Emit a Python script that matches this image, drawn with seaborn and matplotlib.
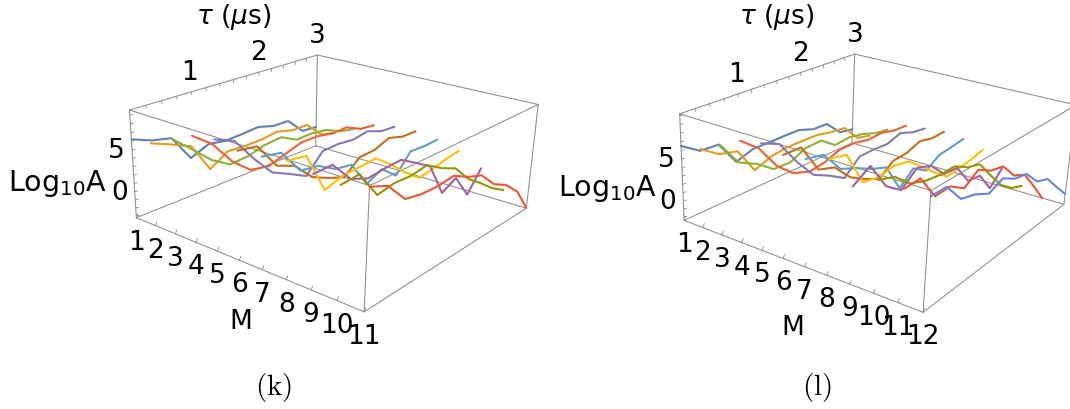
import numpy as np
import pandas as pd
import matplotlib
matplotlib.use('Agg')
from matplotlib import pyplot as plt
import seaborn as sns

sns.set_style('white')
plt.rcParams['mathtext.fontset'] = 'dejavusans'
plt.rcParams['text.color'] = 'black'

# log10 A on the tau grid, one list per M
tau = [0.20, 0.45, 0.71, 0.96, 1.22, 1.47, 1.73, 1.98, 2.24, 2.49, 2.75, 3.00]

k_m1 = [6.24, 5.35, 4.82, 1.58, 2.55, 2.19, 2.30, 2.48, 1.88, 1.84, -0.30, -0.47]
k_m2 = [6.55, 5.65, 4.63, 1.02, 2.42, 2.29, 2.32, 2.61, 2.04, 2.02, -0.04, -0.59]
k_m3 = [7.89, 5.90, 3.79, 2.44, 2.60, 3.20, 3.40, 2.32, 2.39, 2.08, 1.15, 0.73]
k_m4 = [8.94, 7.25, 4.42, 2.62, 2.19, 2.87, 3.54, 3.52, 3.12, 3.18, 2.22, 1.98]
k_m5 = [9.30, 8.39, 5.55, 3.16, 2.09, 0.98, 3.24, 3.32, 3.08, 3.41, 2.66, 2.52]
k_m6 = [8.90, 8.57, 5.62, 4.77, 2.59, 1.60, 0.80, 2.45, 2.56, 3.30, 2.70, 2.65]
k_m7 = [9.08, 8.68, 5.91, 5.61, 4.38, 4.04, 0.85, 1.82, 0.12, 2.38, 2.23, 2.30]
k_m8 = [9.49, 9.17, 4.66, 5.31, 5.45, 5.61, 4.03, 2.26, 0.69, 0.96, 1.39, 1.65]
k_m9 = [8.99, 9.07, 6.73, 5.92, 6.15, 6.26, 5.06, 3.83, -0.29, 0.68, -2.36, 0.18]
k_m10 = [8.77, 8.98, 5.93, 6.29, 6.19, 6.50, 5.29, 4.43, 2.30, 0.93, -0.64, -1.76]
k_m11 = [9.49, 8.69, 6.43, 6.02, 5.95, 6.18, 5.16, 4.48, 2.55, 1.57, -0.17, -3.18]
k_series = [k_m1, k_m2, k_m3, k_m4, k_m5, k_m6, k_m7, k_m8, k_m9, k_m10, k_m11]

l_m1 = [6.52, 5.11, 4.97, 1.99, 2.73, 2.72, 2.74, 2.72, 2.01, 1.95, -0.03, -0.40]
l_m2 = [6.90, 5.45, 4.90, 1.71, 2.54, 2.82, 2.79, 2.75, 2.30, 2.08, -0.13, -0.63]
l_m3 = [8.11, 5.23, 4.13, 2.61, 2.53, 3.46, 3.54, 2.14, 2.33, 1.95, 1.23, 0.93]
l_m4 = [9.27, 7.61, 4.65, 2.89, 2.13, 2.43, 3.14, 3.12, 2.68, 2.79, 2.31, 2.18]
l_m5 = [9.71, 8.79, 5.84, 3.47, 2.41, 1.19, 2.99, 3.01, 2.87, 3.48, 2.76, 2.48]
l_m6 = [9.18, 9.15, 5.76, 5.12, 3.00, 1.85, 0.90, 2.31, 2.42, 3.10, 2.66, 2.73]
l_m7 = [9.50, 9.08, 6.61, 5.81, 4.77, 4.06, 0.53, 2.11, 0.88, 2.03, 2.22, 2.45]
l_m8 = [10.25, 9.82, 5.90, 5.55, 5.93, 5.54, 3.95, 2.35, 0.89, 1.09, 1.30, 1.73]
l_m9 = [8.20, 9.41, 6.26, 4.88, 6.43, 5.78, 3.88, 3.72, 1.13, 0.86, -1.75, -0.02]
l_m10 = [9.65, 9.04, 7.37, 6.72, 6.44, 6.48, 5.45, 4.90, 2.58, 0.46, -0.90, -1.60]
l_m11 = [9.54, 9.66, 6.81, 6.91, 5.71, 6.86, 5.82, 5.42, 3.37, 2.56, 0.10, -2.43]
l_m12 = [9.63, 9.61, 7.36, 6.86, 5.93, 6.67, 5.68, 5.29, 3.43, 2.81, 0.81, -1.04]
l_series = [l_m1, l_m2, l_m3, l_m4, l_m5, l_m6, l_m7, l_m8, l_m9, l_m10, l_m11, l_m12]

colors = ['#5E81B5', '#E19C24', '#8FB131', '#EB6235', '#8778B3', '#C56E1A',
          '#5D9EC7', '#FFBF00', '#A5609D', '#929600', '#E95536', '#6685D9']

# where the corners of each box sit in the picture
k_box = dict(LB=(136, 219), LT=(130, 111), BB=(316, 146.5), BT=(317, 56),
             FB=(365, 313), FT=(368.5, 186), RB=(525.7, 209), RT=(539, 106))
l_box = dict(LB=(684.5, 221.7), LT=(679.3, 115), BB=(851.7, 143.4), BT=(855, 55.3),
             FB=(923, 313.3), FT=(931, 191), RB=(1064, 205.7), RT=(1076, 106))


def fit_camera(box, mmax, amin, amax):
    world = {'LB': (1, .2, amin), 'LT': (1, .2, amax), 'BB': (1, 3, amin), 'BT': (1, 3, amax),
             'FB': (mmax, .2, amin), 'FT': (mmax, .2, amax), 'RB': (mmax, 3, amin), 'RT': (mmax, 3, amax)}
    a, b = [], []
    for name, (X, Y, Z) in world.items():
        u, v = box[name]
        a.append([X, Y, Z, 1, 0, 0, 0, 0, -u * X, -u * Y, -u * Z])
        b.append(u)
        a.append([0, 0, 0, 0, X, Y, Z, 1, -v * X, -v * Y, -v * Z])
        b.append(v)
    p = np.linalg.lstsq(np.array(a), np.array(b), rcond=None)[0]
    return np.append(p, 1).reshape(3, 4)


def project(cam, m, t, a):
    q = cam @ np.array([m, t, a, 1.0])
    return q[0] / q[2], q[1] / q[2]


def draw_panel(ax, series, box, mmax, amin, amax, caption, log_pos, m_pos, tau_pos):
    cam = fit_camera(box, mmax, amin, amax)

    # box edges
    edges = [(1, .2, amin, 1, .2, amax), (1, 3, amin, 1, 3, amax), (mmax, .2, amin, mmax, .2, amax),
             (mmax, 3, amin, mmax, 3, amax), (1, .2, amin, mmax, .2, amin), (1, 3, amin, mmax, 3, amin),
             (1, .2, amax, mmax, .2, amax), (1, 3, amax, mmax, 3, amax), (1, .2, amin, 1, 3, amin),
             (mmax, .2, amin, mmax, 3, amin), (1, .2, amax, 1, 3, amax), (mmax, .2, amax, mmax, 3, amax)]
    for e in edges:
        x0, y0 = project(cam, *e[:3])
        x1, y1 = project(cam, *e[3:])
        ax.plot([x0, x1], [y0, y1], color='#8c8c8c', lw=0.75, zorder=1)

    # ticks
    tk = dict(color='#8c8c8c', lw=0.6, zorder=1)
    for m in range(1, mmax + 1):
        x, y = project(cam, m, .2, amin)
        ax.plot([x, x + 1.5], [y, y - 4], **tk)
        ax.text(x, y + 24, str(m), ha='center', va='center', fontsize=FS)
    for t in np.arange(0.4, 3.0, 0.2):
        x, y = project(cam, 1, t, amax)
        ax.plot([x, x + 0.5], [y, y + 3], **tk)
    for t in [1, 2, 3]:
        x, y = project(cam, 1, t, amax)
        ax.text(x + t - 2.5, y - 20, str(t), ha='center', va='center', fontsize=FS)
    for a in range(int(np.ceil(amin)), int(amax) + 1):
        x, y = project(cam, 1, .2, a)
        ax.plot([x, x + 3], [y, y - 0.8], **tk)
    for a in [0, 5]:
        x, y = project(cam, 1, .2, a)
        ax.text(x - 15.5, y + 0.5, str(a), ha='center', va='center', fontsize=FS)

    # one line per M, same tau grid
    rows = []
    for i, vals in enumerate(series):
        for t, a in zip(tau, vals):
            x, y = project(cam, i + 1, t, a)
            rows.append({'M': i + 1, 'x': x, 'y': y})
    df = pd.DataFrame(rows)
    sns.lineplot(data=df, x='x', y='y', hue='M', palette=colors[:len(series)], sort=False,
                 estimator=None, legend=False, lw=1.5, ax=ax, zorder=3)

    ax.text(*log_pos, r'Log$_{10}$A', ha='center', va='center', fontsize=20.5)
    ax.text(*m_pos, 'M', ha='center', va='center', fontsize=FS)
    ax.text(*tau_pos, r'$\tau$ ($\mu$s)', ha='center', va='center', fontsize=FS)
    ax.text(caption[0], caption[1], caption[2], ha='center', va='center', fontsize=21,
            math_fontfamily='cm')


FS = 19
fig = plt.figure(figsize=(10.7, 4.1), dpi=100)
ax = fig.add_axes([0, 0, 1, 1])

draw_panel(ax, k_series, k_box, 11, -3.2, 9.6, (273.5, 388, r'$\mathrm{(k)}$'),
           (58, 184), (240.5, 322), (234, 17))
draw_panel(ax, l_series, l_box, 12, -2.4, 10.2, (817, 388, r'$\mathrm{(l)}$'),
           (608, 189), (793, 328), (777, 17))

ax.set_xlim(0, 1070)
ax.set_ylim(410, 0)
ax.axis('off')
fig.savefig('out.png', dpi=100)
